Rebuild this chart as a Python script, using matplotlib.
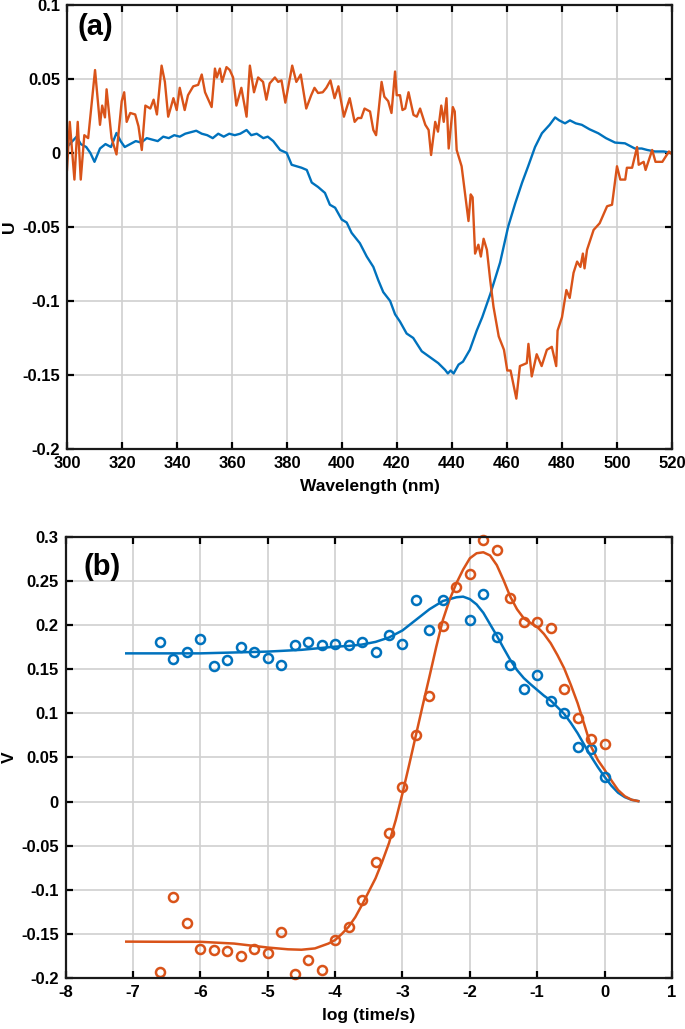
import numpy as np
import matplotlib
matplotlib.use("Agg")
import matplotlib.pyplot as plt
from matplotlib.ticker import FuncFormatter

plt.rcParams['font.family'] = ['Liberation Sans', 'DejaVu Sans']
plt.rcParams['font.weight'] = 'bold'

BLUE = '#0072BD'
ORANGE = '#D95319'

# ---- panel (a): spectra ----
wl_blue = [300, 302, 303.5, 305, 307, 308.5, 310, 312, 314, 316, 318, 319.5, 321, 323, 325,
           327, 329, 331, 333, 335, 337, 339, 341, 343, 345, 347, 349, 351, 353, 355, 357,
           359, 361, 363, 365.3, 367, 369, 371.4, 373, 375, 377.5, 379.9, 381.7, 383.5,
           385.3, 387.2, 389, 391.3, 393.8, 395.6, 397.5, 399.9, 401.7, 403.5, 406.5, 409,
           411.4, 413.2, 415, 417.5, 419.3, 421.1, 423.5, 425.9, 429, 432, 435, 437.5,
           438.5, 439.5, 440.6, 442.4, 444, 446.5, 449, 451, 454, 457.5, 460.4, 463, 465.5,
           467.7, 470.2, 472.7, 475.5, 477.5, 479, 481.1, 482.9, 485, 487.2, 490, 493.2,
           496, 499.3, 502.9, 506.5, 509, 511, 513.8, 517, 520]
u_blue = [0.004, 0.008, 0.011, 0.006, 0.004, 0.0, -0.006, 0.003, 0.006, 0.004, 0.0135, 0.008,
          0.004, 0.006, 0.008, 0.007, 0.010, 0.009, 0.008, 0.011, 0.010, 0.012, 0.011, 0.013,
          0.014, 0.015, 0.013, 0.012, 0.010, 0.013, 0.011, 0.013, 0.012, 0.013, 0.0155, 0.012,
          0.013, 0.010, 0.011, 0.008, 0.002, 0.0, -0.008, -0.009, -0.010, -0.0115, -0.020,
          -0.023, -0.027, -0.035, -0.037, -0.045, -0.047, -0.054, -0.061, -0.070, -0.077,
          -0.086, -0.094, -0.100, -0.109, -0.114, -0.122, -0.125, -0.134, -0.138, -0.142,
          -0.1466, -0.149, -0.147, -0.149, -0.143, -0.141, -0.133, -0.120, -0.111, -0.095,
          -0.074, -0.050, -0.034, -0.020, -0.009, 0.004, 0.0133, 0.019, 0.024, 0.022, 0.020,
          0.022, 0.020, 0.019, 0.016, 0.0133, 0.010, 0.007, 0.0065, 0.003, 0.003, 0.002,
          0.001, 0.001, 0.0]

wl_orange = [300, 301, 302.7, 303.9, 305, 306.3, 307.7, 310.2, 312, 312.8, 313.8, 314.4,
             316.2, 318, 319.9, 320.8, 321.7, 323, 324.8, 326, 327.2, 328.5, 330.3, 331.5,
             332.7, 334.4, 335.6, 336.8, 338.7, 339.9, 341, 342.8, 344, 345.9, 347.7, 349,
             350.2, 352.6, 353.8, 354.5, 355.6, 356.4, 358, 359.2, 360.4, 361.6, 363.4,
             365.3, 366.5, 368, 369.5, 371.3, 372.5, 373.7, 375.6, 376.8, 378, 379.4, 381.9,
             383.4, 385, 387, 388.8, 390, 391.3, 393, 394.3, 395.8, 397.3, 398.7, 400.7,
             402.8, 404.6, 405.8, 407, 408.2, 410.2, 411.4, 412.4, 414.4, 415.4, 416.8, 418,
             419.3, 419.9, 421.1, 422, 423, 424.2, 426, 427.2, 428.4, 430.3, 431.5, 432.4,
             433.9, 434.9, 436.1, 437, 438, 438.8, 440.3, 441, 441.7, 443.5, 445.3, 446,
             446.8, 447.5, 448.4, 449.6, 450.5, 451.5, 452.7, 453.9, 455.1, 457, 458.9, 460.1,
             461.3, 463.4, 464.7, 467.2, 467.8, 469, 470.8, 472.6, 474.5, 476.3, 477.9,
             478.4, 480, 481.6, 482.8, 484.2, 485.5, 486.7, 487.6, 488.2, 489.1, 491.5,
             493.7, 496.4, 498.2, 500, 501.2, 503, 503.6, 505.5, 507.3, 507.9, 509.7, 510.4,
             512.8, 514, 516.5, 518.9, 520]
u_orange = [-0.0115, 0.021, -0.018, 0.021, -0.018, 0.012, 0.010, 0.056, 0.019, 0.032, 0.024,
            0.043, 0.010, -0.001, 0.035, 0.041, 0.021, 0.027, 0.026, 0.018, 0.002, 0.032,
            0.030, 0.036, 0.026, 0.059, 0.048, 0.0245, 0.037, 0.029, 0.044, 0.029, 0.039,
            0.045, 0.046, 0.053, 0.041, 0.031, 0.057, 0.051, 0.057, 0.048, 0.058, 0.056,
            0.051, 0.032, 0.044, 0.0245, 0.059, 0.041, 0.051, 0.048, 0.036, 0.047, 0.051,
            0.048, 0.049, 0.034, 0.059, 0.048, 0.053, 0.030, 0.039, 0.044, 0.0405, 0.041,
            0.044, 0.049, 0.037, 0.045, 0.0245, 0.037, 0.021, 0.0236, 0.0236, 0.030, 0.028,
            0.0155, 0.012, 0.048, 0.038, 0.035, 0.027, 0.055, 0.039, 0.039, 0.029, 0.030,
            0.041, 0.0257, 0.0245, 0.030, 0.019, 0.0155, -0.0014, 0.021, 0.0144, 0.032,
            0.021, 0.037, 0.003, 0.031, 0.028, 0.002, -0.009, -0.036, -0.046, -0.028,
            -0.030, -0.068, -0.062, -0.070, -0.058, -0.0655, -0.086, -0.104, -0.124, -0.133,
            -0.147, -0.147, -0.166, -0.144, -0.142, -0.129, -0.151, -0.136, -0.144, -0.133,
            -0.131, -0.144, -0.120, -0.111, -0.0926, -0.098, -0.081, -0.0734, -0.077, -0.068,
            -0.078, -0.0655, -0.052, -0.0475, -0.036, -0.035, -0.009, -0.018, -0.018, -0.010,
            -0.010, 0.004, -0.008, -0.006, -0.0115, 0.002, -0.006, -0.006, 0.001, -0.001]

# ---- panel (b): kinetics ----
t_pts = [-6.6, -6.4, -6.2, -6.0, -5.8, -5.6, -5.4, -5.2, -5.0, -4.8, -4.6, -4.4, -4.2, -4.0,
         -3.8, -3.6, -3.4, -3.2, -3.0, -2.8, -2.6, -2.4, -2.2, -2.0, -1.8, -1.6, -1.4, -1.2,
         -1.0, -0.8, -0.6, -0.4, -0.2, 0.0]
v_blue = [0.181, 0.162, 0.170, 0.184, 0.154, 0.160, 0.175, 0.170, 0.163, 0.155, 0.177, 0.181,
          0.178, 0.179, 0.178, 0.181, 0.169, 0.189, 0.179, 0.228, 0.194, 0.229, np.nan, 0.206,
          0.235, 0.187, 0.155, 0.128, 0.143, 0.1145, 0.100, 0.0616, 0.0593, 0.028]
v_orange = [-0.193, -0.108, -0.138, -0.1675, -0.168, -0.170, -0.1747, -0.167, -0.172, -0.148,
            -0.195, -0.180, -0.191, -0.157, -0.1426, -0.112, -0.069, -0.036, 0.0162, 0.0755,
            0.1197, 0.1994, 0.243, 0.258, 0.296, 0.285, 0.2305, 0.203, 0.204, 0.197, 0.1277,
            0.0944, 0.0706, 0.065]

t_fit_b = [-7.1, -6.5, -6.0, -5.5, -5.0, -4.5, -4.0, -3.8, -3.6, -3.4, -3.2, -3.0, -2.8, -2.6,
           -2.4, -2.2, -2.1, -2.0, -1.9, -1.8, -1.7, -1.6, -1.5, -1.4, -1.3, -1.2, -1.1, -1.0,
           -0.9, -0.8, -0.7, -0.6, -0.5, -0.4, -0.3, -0.2, -0.1, 0.0, 0.1, 0.2, 0.3, 0.4, 0.5]
fit_b = [0.168, 0.168, 0.168, 0.169, 0.170, 0.172, 0.1756, 0.1764, 0.178, 0.181, 0.186, 0.194,
         0.206, 0.218, 0.2274, 0.2316, 0.2323, 0.2295, 0.2235, 0.214, 0.201, 0.188, 0.174,
         0.1605, 0.149, 0.140, 0.133, 0.1265, 0.120, 0.1145, 0.107, 0.0993, 0.089, 0.0774,
         0.064, 0.051, 0.039, 0.028, 0.018, 0.010, 0.005, 0.002, 0.0005]

t_fit_o = [-7.1, -6.5, -6.0, -5.5, -5.0, -4.7, -4.5, -4.3, -4.1, -4.0, -3.9, -3.8, -3.7,
           -3.6, -3.5, -3.4, -3.3, -3.2, -3.1, -3.0, -2.9, -2.8, -2.7, -2.6, -2.5, -2.4,
           -2.3, -2.2, -2.1, -2.0, -1.9, -1.8, -1.7, -1.6, -1.5, -1.4, -1.3, -1.2, -1.1,
           -1.0, -0.9, -0.8, -0.7, -0.6, -0.5, -0.4, -0.3, -0.2, -0.1, 0.0, 0.1, 0.2, 0.3,
           0.4, 0.5]
fit_o = [-0.1588, -0.159, -0.159, -0.161, -0.1655, -0.1675, -0.168, -0.1665, -0.161, -0.157,
         -0.150, -0.142, -0.131, -0.117, -0.102, -0.087, -0.068, -0.047, -0.021, 0.0094,
         0.042, 0.0755, 0.109, 0.1416, 0.175, 0.206, 0.229, 0.2475, 0.263, 0.2758, 0.2815,
         0.2826, 0.279, 0.268, 0.251, 0.2323, 0.218, 0.2078, 0.2025, 0.198, 0.190, 0.1795,
         0.166, 0.151, 0.132, 0.1114, 0.087, 0.0622, 0.047, 0.036, 0.024, 0.013, 0.006,
         0.002, 0.0005]


def fmt(v, pos):
    s = '%g' % round(v, 6)
    return '0' if s in ('-0', '0') else s


def style(ax):
    ax.grid(True, color='#d0d0d0', linewidth=1.2)
    ax.set_axisbelow(True)
    for sp in ax.spines.values():
        sp.set_linewidth(1.6)
        sp.set_color('#1a1a1a')
    ax.tick_params(direction='in', length=5, width=1.6, top=True, right=True,
                   labelsize=12, colors='black', pad=5)
    for lab in ax.get_xticklabels() + ax.get_yticklabels():
        lab.set_fontweight('bold')
    ax.xaxis.set_major_formatter(FuncFormatter(fmt))
    ax.yaxis.set_major_formatter(FuncFormatter(fmt))


fig = plt.figure(figsize=(6.85, 10.29), dpi=100)

ax1 = fig.add_axes([0.0978, 0.5637, 0.8832, 0.4315])
ax1.plot(wl_blue, u_blue, color=BLUE, lw=1.7)
ax1.plot(wl_orange, u_orange, color=ORANGE, lw=1.7)
ax1.set_xlim(300, 520)
ax1.set_ylim(-0.2, 0.1)
ax1.set_xticks(np.arange(300, 521, 20))
ax1.set_yticks(np.arange(-0.2, 0.101, 0.05))
style(ax1)
ax1.set_xlabel('Wavelength (nm)', fontsize=12.5, fontweight='bold', labelpad=6)
ax1.set_ylabel('U', fontsize=12.5, fontweight='bold')
ax1.yaxis.set_label_coords(-0.082, 0.5)
ax1.text(0.018, 0.95, '(a)', transform=ax1.transAxes, fontsize=21, fontweight='bold',
         va='center', ha='left')

ax2 = fig.add_axes([0.0958, 0.0496, 0.8852, 0.4286])
ax2.plot(t_fit_b, fit_b, color=BLUE, lw=1.8)
ax2.plot(t_fit_o, fit_o, color=ORANGE, lw=1.8)
ax2.plot(t_pts, v_blue, 'o', mfc='none', mec=BLUE, mew=1.8, ms=6.5, clip_on=False)
ax2.plot(t_pts, v_orange, 'o', mfc='none', mec=ORANGE, mew=1.8, ms=6.5, clip_on=False)
ax2.set_xlim(-8, 1)
ax2.set_ylim(-0.2, 0.3)
ax2.set_xticks(np.arange(-8, 2, 1))
ax2.set_yticks(np.arange(-0.2, 0.301, 0.05))
style(ax2)
ax2.set_xlabel('log (time/s)', fontsize=12.5, fontweight='bold', labelpad=6)
ax2.set_ylabel('V', fontsize=12.5, fontweight='bold')
ax2.yaxis.set_label_coords(-0.080, 0.5)
ax2.text(0.029, 0.932, '(b)', transform=ax2.transAxes, fontsize=21, fontweight='bold',
         va='center', ha='left')

fig.savefig('out.png', dpi=100)
